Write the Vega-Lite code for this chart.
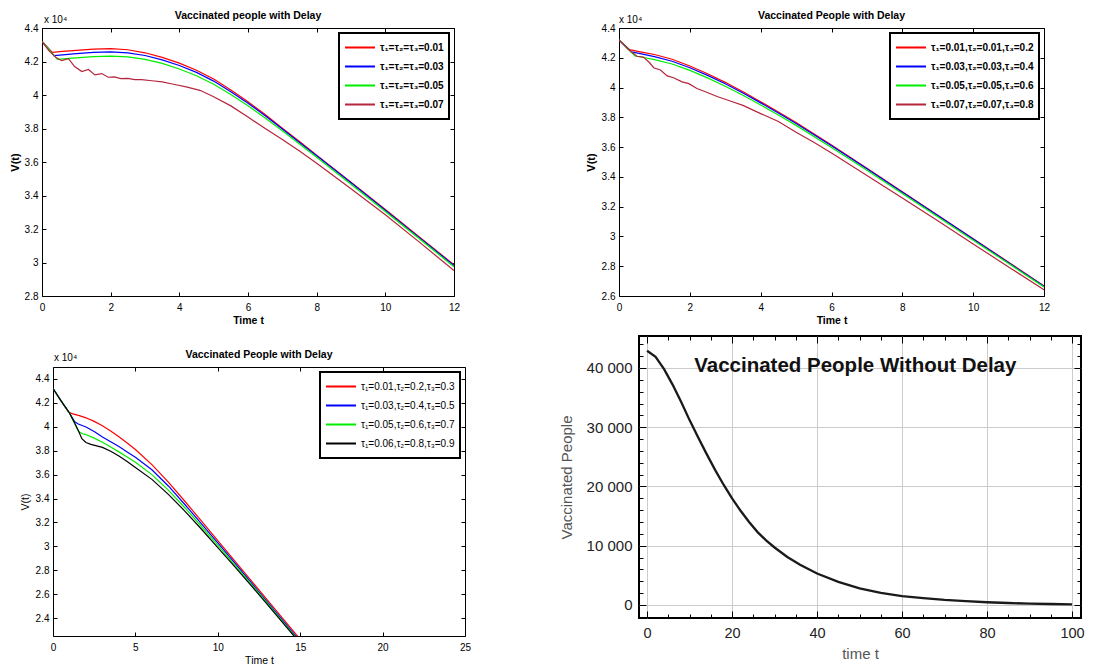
{
"$schema": "https://vega.github.io/schema/vega-lite/v6.json",
"background": "white",
"padding": {"left": 8, "top": 10, "right": 5, "bottom": 5},
"config": {
  "font": "Liberation Sans",
  "view": {"stroke": "black", "strokeWidth": 1},
  "axis": {"domain": false, "grid": false, "tickColor": "black", "tickSize": -4, "tickWidth": 1, "labelColor": "black", "titleColor": "black", "labelFontSize": 10, "labelFlush": false, "labelOverlap": false},
  "legend": {"strokeWidth": 2},
  "title": {"color": "black", "fontSize": 10.5, "fontWeight": "bold", "offset": -6}
},
"datasets": {
"p1": [
{"t":0,"v":4.32,"s":"τ₁=τ₂=τ₃=0.01"},{"t":0.3,"v":4.255,"s":"τ₁=τ₂=τ₃=0.01"},{"t":0.6,"v":4.26,"s":"τ₁=τ₂=τ₃=0.01"},{"t":1,"v":4.267,"s":"τ₁=τ₂=τ₃=0.01"},{"t":1.5,"v":4.274,"s":"τ₁=τ₂=τ₃=0.01"},{"t":2,"v":4.277,"s":"τ₁=τ₂=τ₃=0.01"},{"t":2.5,"v":4.27,"s":"τ₁=τ₂=τ₃=0.01"},{"t":3,"v":4.252,"s":"τ₁=τ₂=τ₃=0.01"},{"t":3.5,"v":4.225,"s":"τ₁=τ₂=τ₃=0.01"},{"t":4,"v":4.19,"s":"τ₁=τ₂=τ₃=0.01"},{"t":4.5,"v":4.148,"s":"τ₁=τ₂=τ₃=0.01"},{"t":5,"v":4.095,"s":"τ₁=τ₂=τ₃=0.01"},{"t":5.5,"v":4.03,"s":"τ₁=τ₂=τ₃=0.01"},{"t":6,"v":3.96,"s":"τ₁=τ₂=τ₃=0.01"},{"t":6.5,"v":3.883,"s":"τ₁=τ₂=τ₃=0.01"},{"t":7,"v":3.802,"s":"τ₁=τ₂=τ₃=0.01"},{"t":7.5,"v":3.722,"s":"τ₁=τ₂=τ₃=0.01"},{"t":8,"v":3.641,"s":"τ₁=τ₂=τ₃=0.01"},{"t":9,"v":3.48,"s":"τ₁=τ₂=τ₃=0.01"},{"t":10,"v":3.316,"s":"τ₁=τ₂=τ₃=0.01"},{"t":11,"v":3.151,"s":"τ₁=τ₂=τ₃=0.01"},{"t":12,"v":2.986,"s":"τ₁=τ₂=τ₃=0.01"},
{"t":0,"v":4.32,"s":"τ₁=τ₂=τ₃=0.03"},{"t":0.35,"v":4.235,"s":"τ₁=τ₂=τ₃=0.03"},{"t":0.6,"v":4.24,"s":"τ₁=τ₂=τ₃=0.03"},{"t":1,"v":4.247,"s":"τ₁=τ₂=τ₃=0.03"},{"t":1.5,"v":4.254,"s":"τ₁=τ₂=τ₃=0.03"},{"t":2,"v":4.257,"s":"τ₁=τ₂=τ₃=0.03"},{"t":2.5,"v":4.252,"s":"τ₁=τ₂=τ₃=0.03"},{"t":3,"v":4.236,"s":"τ₁=τ₂=τ₃=0.03"},{"t":3.5,"v":4.21,"s":"τ₁=τ₂=τ₃=0.03"},{"t":4,"v":4.176,"s":"τ₁=τ₂=τ₃=0.03"},{"t":4.5,"v":4.135,"s":"τ₁=τ₂=τ₃=0.03"},{"t":5,"v":4.083,"s":"τ₁=τ₂=τ₃=0.03"},{"t":5.5,"v":4.02,"s":"τ₁=τ₂=τ₃=0.03"},{"t":6,"v":3.951,"s":"τ₁=τ₂=τ₃=0.03"},{"t":6.5,"v":3.876,"s":"τ₁=τ₂=τ₃=0.03"},{"t":7,"v":3.797,"s":"τ₁=τ₂=τ₃=0.03"},{"t":7.5,"v":3.717,"s":"τ₁=τ₂=τ₃=0.03"},{"t":8,"v":3.637,"s":"τ₁=τ₂=τ₃=0.03"},{"t":9,"v":3.476,"s":"τ₁=τ₂=τ₃=0.03"},{"t":10,"v":3.312,"s":"τ₁=τ₂=τ₃=0.03"},{"t":11,"v":3.147,"s":"τ₁=τ₂=τ₃=0.03"},{"t":12,"v":2.982,"s":"τ₁=τ₂=τ₃=0.03"},
{"t":0,"v":4.32,"s":"τ₁=τ₂=τ₃=0.05"},{"t":0.45,"v":4.213,"s":"τ₁=τ₂=τ₃=0.05"},{"t":0.7,"v":4.217,"s":"τ₁=τ₂=τ₃=0.05"},{"t":1,"v":4.222,"s":"τ₁=τ₂=τ₃=0.05"},{"t":1.5,"v":4.229,"s":"τ₁=τ₂=τ₃=0.05"},{"t":2,"v":4.232,"s":"τ₁=τ₂=τ₃=0.05"},{"t":2.5,"v":4.228,"s":"τ₁=τ₂=τ₃=0.05"},{"t":3,"v":4.213,"s":"τ₁=τ₂=τ₃=0.05"},{"t":3.5,"v":4.189,"s":"τ₁=τ₂=τ₃=0.05"},{"t":4,"v":4.155,"s":"τ₁=τ₂=τ₃=0.05"},{"t":4.5,"v":4.115,"s":"τ₁=τ₂=τ₃=0.05"},{"t":5,"v":4.064,"s":"τ₁=τ₂=τ₃=0.05"},{"t":5.5,"v":4.003,"s":"τ₁=τ₂=τ₃=0.05"},{"t":6,"v":3.936,"s":"τ₁=τ₂=τ₃=0.05"},{"t":6.5,"v":3.863,"s":"τ₁=τ₂=τ₃=0.05"},{"t":7,"v":3.786,"s":"τ₁=τ₂=τ₃=0.05"},{"t":7.5,"v":3.707,"s":"τ₁=τ₂=τ₃=0.05"},{"t":8,"v":3.628,"s":"τ₁=τ₂=τ₃=0.05"},{"t":9,"v":3.467,"s":"τ₁=τ₂=τ₃=0.05"},{"t":10,"v":3.304,"s":"τ₁=τ₂=τ₃=0.05"},{"t":11,"v":3.14,"s":"τ₁=τ₂=τ₃=0.05"},{"t":12,"v":2.975,"s":"τ₁=τ₂=τ₃=0.05"},
{"t":0,"v":4.32,"s":"τ₁=τ₂=τ₃=0.07"},{"t":0.2,"v":4.265,"s":"τ₁=τ₂=τ₃=0.07"},{"t":0.4,"v":4.225,"s":"τ₁=τ₂=τ₃=0.07"},{"t":0.57,"v":4.205,"s":"τ₁=τ₂=τ₃=0.07"},{"t":0.77,"v":4.217,"s":"τ₁=τ₂=τ₃=0.07"},{"t":0.95,"v":4.17,"s":"τ₁=τ₂=τ₃=0.07"},{"t":1.16,"v":4.14,"s":"τ₁=τ₂=τ₃=0.07"},{"t":1.35,"v":4.152,"s":"τ₁=τ₂=τ₃=0.07"},{"t":1.54,"v":4.12,"s":"τ₁=τ₂=τ₃=0.07"},{"t":1.74,"v":4.128,"s":"τ₁=τ₂=τ₃=0.07"},{"t":1.93,"v":4.106,"s":"τ₁=τ₂=τ₃=0.07"},{"t":2.1,"v":4.108,"s":"τ₁=τ₂=τ₃=0.07"},{"t":2.3,"v":4.098,"s":"τ₁=τ₂=τ₃=0.07"},{"t":2.5,"v":4.099,"s":"τ₁=τ₂=τ₃=0.07"},{"t":2.7,"v":4.092,"s":"τ₁=τ₂=τ₃=0.07"},{"t":2.9,"v":4.092,"s":"τ₁=τ₂=τ₃=0.07"},{"t":3.2,"v":4.085,"s":"τ₁=τ₂=τ₃=0.07"},{"t":3.5,"v":4.078,"s":"τ₁=τ₂=τ₃=0.07"},{"t":3.83,"v":4.064,"s":"τ₁=τ₂=τ₃=0.07"},{"t":4.2,"v":4.048,"s":"τ₁=τ₂=τ₃=0.07"},{"t":4.6,"v":4.028,"s":"τ₁=τ₂=τ₃=0.07"},{"t":5,"v":3.99,"s":"τ₁=τ₂=τ₃=0.07"},{"t":5.5,"v":3.935,"s":"τ₁=τ₂=τ₃=0.07"},{"t":6,"v":3.868,"s":"τ₁=τ₂=τ₃=0.07"},{"t":6.5,"v":3.8,"s":"τ₁=τ₂=τ₃=0.07"},{"t":7,"v":3.735,"s":"τ₁=τ₂=τ₃=0.07"},{"t":7.5,"v":3.665,"s":"τ₁=τ₂=τ₃=0.07"},{"t":8,"v":3.592,"s":"τ₁=τ₂=τ₃=0.07"},{"t":9,"v":3.44,"s":"τ₁=τ₂=τ₃=0.07"},{"t":10,"v":3.285,"s":"τ₁=τ₂=τ₃=0.07"},{"t":11,"v":3.12,"s":"τ₁=τ₂=τ₃=0.07"},{"t":12,"v":2.952,"s":"τ₁=τ₂=τ₃=0.07"}
],
"p2": [
{"t":0,"v":4.32,"s":"τ₁=0.01,τ₂=0.01,τ₃=0.2"},{"t":0.3,"v":4.255,"s":"τ₁=0.01,τ₂=0.01,τ₃=0.2"},{"t":0.6,"v":4.24,"s":"τ₁=0.01,τ₂=0.01,τ₃=0.2"},{"t":1,"v":4.222,"s":"τ₁=0.01,τ₂=0.01,τ₃=0.2"},{"t":1.5,"v":4.19,"s":"τ₁=0.01,τ₂=0.01,τ₃=0.2"},{"t":2,"v":4.145,"s":"τ₁=0.01,τ₂=0.01,τ₃=0.2"},{"t":2.5,"v":4.093,"s":"τ₁=0.01,τ₂=0.01,τ₃=0.2"},{"t":3,"v":4.035,"s":"τ₁=0.01,τ₂=0.01,τ₃=0.2"},{"t":3.5,"v":3.972,"s":"τ₁=0.01,τ₂=0.01,τ₃=0.2"},{"t":4,"v":3.905,"s":"τ₁=0.01,τ₂=0.01,τ₃=0.2"},{"t":4.5,"v":3.836,"s":"τ₁=0.01,τ₂=0.01,τ₃=0.2"},{"t":5,"v":3.765,"s":"τ₁=0.01,τ₂=0.01,τ₃=0.2"},{"t":6,"v":3.614,"s":"τ₁=0.01,τ₂=0.01,τ₃=0.2"},{"t":7,"v":3.458,"s":"τ₁=0.01,τ₂=0.01,τ₃=0.2"},{"t":8,"v":3.3,"s":"τ₁=0.01,τ₂=0.01,τ₃=0.2"},{"t":9,"v":3.143,"s":"τ₁=0.01,τ₂=0.01,τ₃=0.2"},{"t":10,"v":2.985,"s":"τ₁=0.01,τ₂=0.01,τ₃=0.2"},{"t":11,"v":2.827,"s":"τ₁=0.01,τ₂=0.01,τ₃=0.2"},{"t":12,"v":2.668,"s":"τ₁=0.01,τ₂=0.01,τ₃=0.2"},
{"t":0,"v":4.32,"s":"τ₁=0.03,τ₂=0.03,τ₃=0.4"},{"t":0.35,"v":4.24,"s":"τ₁=0.03,τ₂=0.03,τ₃=0.4"},{"t":0.6,"v":4.228,"s":"τ₁=0.03,τ₂=0.03,τ₃=0.4"},{"t":1,"v":4.208,"s":"τ₁=0.03,τ₂=0.03,τ₃=0.4"},{"t":1.5,"v":4.177,"s":"τ₁=0.03,τ₂=0.03,τ₃=0.4"},{"t":2,"v":4.133,"s":"τ₁=0.03,τ₂=0.03,τ₃=0.4"},{"t":2.5,"v":4.082,"s":"τ₁=0.03,τ₂=0.03,τ₃=0.4"},{"t":3,"v":4.025,"s":"τ₁=0.03,τ₂=0.03,τ₃=0.4"},{"t":3.5,"v":3.963,"s":"τ₁=0.03,τ₂=0.03,τ₃=0.4"},{"t":4,"v":3.897,"s":"τ₁=0.03,τ₂=0.03,τ₃=0.4"},{"t":4.5,"v":3.829,"s":"τ₁=0.03,τ₂=0.03,τ₃=0.4"},{"t":5,"v":3.759,"s":"τ₁=0.03,τ₂=0.03,τ₃=0.4"},{"t":6,"v":3.609,"s":"τ₁=0.03,τ₂=0.03,τ₃=0.4"},{"t":7,"v":3.454,"s":"τ₁=0.03,τ₂=0.03,τ₃=0.4"},{"t":8,"v":3.297,"s":"τ₁=0.03,τ₂=0.03,τ₃=0.4"},{"t":9,"v":3.14,"s":"τ₁=0.03,τ₂=0.03,τ₃=0.4"},{"t":10,"v":2.982,"s":"τ₁=0.03,τ₂=0.03,τ₃=0.4"},{"t":11,"v":2.824,"s":"τ₁=0.03,τ₂=0.03,τ₃=0.4"},{"t":12,"v":2.665,"s":"τ₁=0.03,τ₂=0.03,τ₃=0.4"},
{"t":0,"v":4.32,"s":"τ₁=0.05,τ₂=0.05,τ₃=0.6"},{"t":0.45,"v":4.212,"s":"τ₁=0.05,τ₂=0.05,τ₃=0.6"},{"t":0.7,"v":4.202,"s":"τ₁=0.05,τ₂=0.05,τ₃=0.6"},{"t":1,"v":4.188,"s":"τ₁=0.05,τ₂=0.05,τ₃=0.6"},{"t":1.5,"v":4.158,"s":"τ₁=0.05,τ₂=0.05,τ₃=0.6"},{"t":2,"v":4.115,"s":"τ₁=0.05,τ₂=0.05,τ₃=0.6"},{"t":2.5,"v":4.065,"s":"τ₁=0.05,τ₂=0.05,τ₃=0.6"},{"t":3,"v":4.009,"s":"τ₁=0.05,τ₂=0.05,τ₃=0.6"},{"t":3.5,"v":3.948,"s":"τ₁=0.05,τ₂=0.05,τ₃=0.6"},{"t":4,"v":3.883,"s":"τ₁=0.05,τ₂=0.05,τ₃=0.6"},{"t":4.5,"v":3.815,"s":"τ₁=0.05,τ₂=0.05,τ₃=0.6"},{"t":5,"v":3.746,"s":"τ₁=0.05,τ₂=0.05,τ₃=0.6"},{"t":6,"v":3.598,"s":"τ₁=0.05,τ₂=0.05,τ₃=0.6"},{"t":7,"v":3.444,"s":"τ₁=0.05,τ₂=0.05,τ₃=0.6"},{"t":8,"v":3.288,"s":"τ₁=0.05,τ₂=0.05,τ₃=0.6"},{"t":9,"v":3.132,"s":"τ₁=0.05,τ₂=0.05,τ₃=0.6"},{"t":10,"v":2.975,"s":"τ₁=0.05,τ₂=0.05,τ₃=0.6"},{"t":11,"v":2.818,"s":"τ₁=0.05,τ₂=0.05,τ₃=0.6"},{"t":12,"v":2.66,"s":"τ₁=0.05,τ₂=0.05,τ₃=0.6"},
{"t":0,"v":4.32,"s":"τ₁=0.07,τ₂=0.07,τ₃=0.8"},{"t":0.25,"v":4.258,"s":"τ₁=0.07,τ₂=0.07,τ₃=0.8"},{"t":0.51,"v":4.21,"s":"τ₁=0.07,τ₂=0.07,τ₃=0.8"},{"t":0.69,"v":4.205,"s":"τ₁=0.07,τ₂=0.07,τ₃=0.8"},{"t":0.85,"v":4.17,"s":"τ₁=0.07,τ₂=0.07,τ₃=0.8"},{"t":0.98,"v":4.133,"s":"τ₁=0.07,τ₂=0.07,τ₃=0.8"},{"t":1.17,"v":4.118,"s":"τ₁=0.07,τ₂=0.07,τ₃=0.8"},{"t":1.36,"v":4.078,"s":"τ₁=0.07,τ₂=0.07,τ₃=0.8"},{"t":1.54,"v":4.066,"s":"τ₁=0.07,τ₂=0.07,τ₃=0.8"},{"t":1.78,"v":4.038,"s":"τ₁=0.07,τ₂=0.07,τ₃=0.8"},{"t":1.97,"v":4.026,"s":"τ₁=0.07,τ₂=0.07,τ₃=0.8"},{"t":2.2,"v":3.994,"s":"τ₁=0.07,τ₂=0.07,τ₃=0.8"},{"t":2.44,"v":3.972,"s":"τ₁=0.07,τ₂=0.07,τ₃=0.8"},{"t":2.77,"v":3.94,"s":"τ₁=0.07,τ₂=0.07,τ₃=0.8"},{"t":3.14,"v":3.91,"s":"τ₁=0.07,τ₂=0.07,τ₃=0.8"},{"t":3.5,"v":3.88,"s":"τ₁=0.07,τ₂=0.07,τ₃=0.8"},{"t":4,"v":3.825,"s":"τ₁=0.07,τ₂=0.07,τ₃=0.8"},{"t":4.5,"v":3.772,"s":"τ₁=0.07,τ₂=0.07,τ₃=0.8"},{"t":5,"v":3.7,"s":"τ₁=0.07,τ₂=0.07,τ₃=0.8"},{"t":5.5,"v":3.632,"s":"τ₁=0.07,τ₂=0.07,τ₃=0.8"},{"t":6,"v":3.56,"s":"τ₁=0.07,τ₂=0.07,τ₃=0.8"},{"t":7,"v":3.41,"s":"τ₁=0.07,τ₂=0.07,τ₃=0.8"},{"t":8,"v":3.258,"s":"τ₁=0.07,τ₂=0.07,τ₃=0.8"},{"t":9,"v":3.105,"s":"τ₁=0.07,τ₂=0.07,τ₃=0.8"},{"t":10,"v":2.95,"s":"τ₁=0.07,τ₂=0.07,τ₃=0.8"},{"t":11,"v":2.795,"s":"τ₁=0.07,τ₂=0.07,τ₃=0.8"},{"t":12,"v":2.642,"s":"τ₁=0.07,τ₂=0.07,τ₃=0.8"}
],
"p3": [
{"t":0,"v":4.32,"s":"τ₁=0.01,τ₂=0.2,τ₃=0.3"},{"t":0.5,"v":4.215,"s":"τ₁=0.01,τ₂=0.2,τ₃=0.3"},{"t":0.95,"v":4.122,"s":"τ₁=0.01,τ₂=0.2,τ₃=0.3"},{"t":1.2,"v":4.108,"s":"τ₁=0.01,τ₂=0.2,τ₃=0.3"},{"t":1.6,"v":4.093,"s":"τ₁=0.01,τ₂=0.2,τ₃=0.3"},{"t":2,"v":4.075,"s":"τ₁=0.01,τ₂=0.2,τ₃=0.3"},{"t":2.5,"v":4.045,"s":"τ₁=0.01,τ₂=0.2,τ₃=0.3"},{"t":3,"v":4.008,"s":"τ₁=0.01,τ₂=0.2,τ₃=0.3"},{"t":3.5,"v":3.965,"s":"τ₁=0.01,τ₂=0.2,τ₃=0.3"},{"t":4,"v":3.917,"s":"τ₁=0.01,τ₂=0.2,τ₃=0.3"},{"t":4.5,"v":3.865,"s":"τ₁=0.01,τ₂=0.2,τ₃=0.3"},{"t":5,"v":3.81,"s":"τ₁=0.01,τ₂=0.2,τ₃=0.3"},{"t":6,"v":3.683,"s":"τ₁=0.01,τ₂=0.2,τ₃=0.3"},{"t":7,"v":3.537,"s":"τ₁=0.01,τ₂=0.2,τ₃=0.3"},{"t":8,"v":3.377,"s":"τ₁=0.01,τ₂=0.2,τ₃=0.3"},{"t":9,"v":3.212,"s":"τ₁=0.01,τ₂=0.2,τ₃=0.3"},{"t":10,"v":3.047,"s":"τ₁=0.01,τ₂=0.2,τ₃=0.3"},{"t":11,"v":2.882,"s":"τ₁=0.01,τ₂=0.2,τ₃=0.3"},{"t":12,"v":2.717,"s":"τ₁=0.01,τ₂=0.2,τ₃=0.3"},{"t":13,"v":2.552,"s":"τ₁=0.01,τ₂=0.2,τ₃=0.3"},{"t":14,"v":2.387,"s":"τ₁=0.01,τ₂=0.2,τ₃=0.3"},{"t":15,"v":2.222,"s":"τ₁=0.01,τ₂=0.2,τ₃=0.3"},
{"t":0,"v":4.32,"s":"τ₁=0.03,τ₂=0.4,τ₃=0.5"},{"t":0.5,"v":4.215,"s":"τ₁=0.03,τ₂=0.4,τ₃=0.5"},{"t":1,"v":4.115,"s":"τ₁=0.03,τ₂=0.4,τ₃=0.5"},{"t":1.3,"v":4.045,"s":"τ₁=0.03,τ₂=0.4,τ₃=0.5"},{"t":1.5,"v":4.025,"s":"τ₁=0.03,τ₂=0.4,τ₃=0.5"},{"t":2,"v":3.998,"s":"τ₁=0.03,τ₂=0.4,τ₃=0.5"},{"t":2.5,"v":3.96,"s":"τ₁=0.03,τ₂=0.4,τ₃=0.5"},{"t":3,"v":3.915,"s":"τ₁=0.03,τ₂=0.4,τ₃=0.5"},{"t":3.5,"v":3.875,"s":"τ₁=0.03,τ₂=0.4,τ₃=0.5"},{"t":4,"v":3.835,"s":"τ₁=0.03,τ₂=0.4,τ₃=0.5"},{"t":4.5,"v":3.79,"s":"τ₁=0.03,τ₂=0.4,τ₃=0.5"},{"t":5,"v":3.745,"s":"τ₁=0.03,τ₂=0.4,τ₃=0.5"},{"t":6,"v":3.64,"s":"τ₁=0.03,τ₂=0.4,τ₃=0.5"},{"t":7,"v":3.505,"s":"τ₁=0.03,τ₂=0.4,τ₃=0.5"},{"t":8,"v":3.35,"s":"τ₁=0.03,τ₂=0.4,τ₃=0.5"},{"t":9,"v":3.19,"s":"τ₁=0.03,τ₂=0.4,τ₃=0.5"},{"t":10,"v":3.028,"s":"τ₁=0.03,τ₂=0.4,τ₃=0.5"},{"t":11,"v":2.865,"s":"τ₁=0.03,τ₂=0.4,τ₃=0.5"},{"t":12,"v":2.7,"s":"τ₁=0.03,τ₂=0.4,τ₃=0.5"},{"t":13,"v":2.535,"s":"τ₁=0.03,τ₂=0.4,τ₃=0.5"},{"t":14,"v":2.37,"s":"τ₁=0.03,τ₂=0.4,τ₃=0.5"},{"t":15,"v":2.205,"s":"τ₁=0.03,τ₂=0.4,τ₃=0.5"},
{"t":0,"v":4.32,"s":"τ₁=0.05,τ₂=0.6,τ₃=0.7"},{"t":0.5,"v":4.215,"s":"τ₁=0.05,τ₂=0.6,τ₃=0.7"},{"t":1,"v":4.115,"s":"τ₁=0.05,τ₂=0.6,τ₃=0.7"},{"t":1.3,"v":4.03,"s":"τ₁=0.05,τ₂=0.6,τ₃=0.7"},{"t":1.55,"v":3.96,"s":"τ₁=0.05,τ₂=0.6,τ₃=0.7"},{"t":1.8,"v":3.942,"s":"τ₁=0.05,τ₂=0.6,τ₃=0.7"},{"t":2,"v":3.935,"s":"τ₁=0.05,τ₂=0.6,τ₃=0.7"},{"t":2.5,"v":3.905,"s":"τ₁=0.05,τ₂=0.6,τ₃=0.7"},{"t":3,"v":3.87,"s":"τ₁=0.05,τ₂=0.6,τ₃=0.7"},{"t":3.5,"v":3.83,"s":"τ₁=0.05,τ₂=0.6,τ₃=0.7"},{"t":4,"v":3.79,"s":"τ₁=0.05,τ₂=0.6,τ₃=0.7"},{"t":4.5,"v":3.748,"s":"τ₁=0.05,τ₂=0.6,τ₃=0.7"},{"t":5,"v":3.703,"s":"τ₁=0.05,τ₂=0.6,τ₃=0.7"},{"t":6,"v":3.6,"s":"τ₁=0.05,τ₂=0.6,τ₃=0.7"},{"t":7,"v":3.47,"s":"τ₁=0.05,τ₂=0.6,τ₃=0.7"},{"t":8,"v":3.323,"s":"τ₁=0.05,τ₂=0.6,τ₃=0.7"},{"t":9,"v":3.168,"s":"τ₁=0.05,τ₂=0.6,τ₃=0.7"},{"t":10,"v":3.01,"s":"τ₁=0.05,τ₂=0.6,τ₃=0.7"},{"t":11,"v":2.85,"s":"τ₁=0.05,τ₂=0.6,τ₃=0.7"},{"t":12,"v":2.688,"s":"τ₁=0.05,τ₂=0.6,τ₃=0.7"},{"t":13,"v":2.525,"s":"τ₁=0.05,τ₂=0.6,τ₃=0.7"},{"t":14,"v":2.36,"s":"τ₁=0.05,τ₂=0.6,τ₃=0.7"},{"t":15,"v":2.195,"s":"τ₁=0.05,τ₂=0.6,τ₃=0.7"},
{"t":0,"v":4.32,"s":"τ₁=0.06,τ₂=0.8,τ₃=0.9"},{"t":0.5,"v":4.215,"s":"τ₁=0.06,τ₂=0.8,τ₃=0.9"},{"t":1,"v":4.115,"s":"τ₁=0.06,τ₂=0.8,τ₃=0.9"},{"t":1.3,"v":4.035,"s":"τ₁=0.06,τ₂=0.8,τ₃=0.9"},{"t":1.55,"v":3.965,"s":"τ₁=0.06,τ₂=0.8,τ₃=0.9"},{"t":1.75,"v":3.9,"s":"τ₁=0.06,τ₂=0.8,τ₃=0.9"},{"t":2,"v":3.868,"s":"τ₁=0.06,τ₂=0.8,τ₃=0.9"},{"t":2.3,"v":3.853,"s":"τ₁=0.06,τ₂=0.8,τ₃=0.9"},{"t":3,"v":3.828,"s":"τ₁=0.06,τ₂=0.8,τ₃=0.9"},{"t":3.5,"v":3.795,"s":"τ₁=0.06,τ₂=0.8,τ₃=0.9"},{"t":4,"v":3.755,"s":"τ₁=0.06,τ₂=0.8,τ₃=0.9"},{"t":4.5,"v":3.71,"s":"τ₁=0.06,τ₂=0.8,τ₃=0.9"},{"t":5,"v":3.66,"s":"τ₁=0.06,τ₂=0.8,τ₃=0.9"},{"t":6,"v":3.56,"s":"τ₁=0.06,τ₂=0.8,τ₃=0.9"},{"t":7,"v":3.435,"s":"τ₁=0.06,τ₂=0.8,τ₃=0.9"},{"t":8,"v":3.295,"s":"τ₁=0.06,τ₂=0.8,τ₃=0.9"},{"t":9,"v":3.145,"s":"τ₁=0.06,τ₂=0.8,τ₃=0.9"},{"t":10,"v":2.99,"s":"τ₁=0.06,τ₂=0.8,τ₃=0.9"},{"t":11,"v":2.835,"s":"τ₁=0.06,τ₂=0.8,τ₃=0.9"},{"t":12,"v":2.675,"s":"τ₁=0.06,τ₂=0.8,τ₃=0.9"},{"t":13,"v":2.515,"s":"τ₁=0.06,τ₂=0.8,τ₃=0.9"},{"t":14,"v":2.352,"s":"τ₁=0.06,τ₂=0.8,τ₃=0.9"},{"t":15,"v":2.188,"s":"τ₁=0.06,τ₂=0.8,τ₃=0.9"}
],
"p4": [
{"t":0,"v":42900},{"t":2,"v":41900},{"t":4,"v":39800},{"t":6,"v":37200},{"t":8,"v":34300},{"t":10,"v":31200},{"t":12,"v":28300},{"t":14,"v":25500},{"t":16,"v":22800},{"t":18,"v":20300},{"t":20,"v":18000},{"t":22,"v":15900},{"t":24,"v":14000},{"t":26,"v":12300},{"t":28,"v":10900},{"t":30,"v":9700},{"t":33,"v":8100},{"t":36,"v":6800},{"t":40,"v":5300},{"t":45,"v":3900},{"t":50,"v":2800},{"t":55,"v":2050},{"t":60,"v":1500},{"t":65,"v":1150},{"t":70,"v":850},{"t":75,"v":640},{"t":80,"v":460},{"t":85,"v":330},{"t":90,"v":230},{"t":95,"v":160},{"t":100,"v":110}
]
},
"bounds": "flush",
"spacing": 577,
"resolve": {"scale": {"color": "independent"}, "legend": {"color": "independent"}},
"hconcat": [
{
 "bounds": "flush", "spacing": 71,
 "resolve": {"scale": {"color": "independent"}, "legend": {"color": "independent"}},
 "vconcat": [
  {
   "width": 412, "height": 268,
   "title": {"text": "Vaccinated people with Delay"},
   "layer": [
    {"data": {"name": "p1"},
     "mark": {"type": "line", "strokeWidth": 1.2, "clip": true},
     "encoding": {
      "x": {"field": "t", "type": "quantitative", "scale": {"domain": [0, 12], "nice": false, "zero": false},
            "axis": {"orient": "bottom", "values": [0,2,4,6,8,10,12], "title": "Time t", "titleFontWeight": "bold", "titleFontSize": 10.5, "labelPadding": 10, "titlePadding": 3}},
      "y": {"field": "v", "type": "quantitative", "scale": {"domain": [2.8, 4.4], "nice": false, "zero": false},
            "axis": {"orient": "left", "values": [2.8,3,3.2,3.4,3.6,3.8,4,4.2,4.4], "format": "~g", "title": "V(t)", "titleFontWeight": "bold", "titleFontSize": 11, "labelPadding": 8, "titlePadding": 4}},
      "color": {"field": "s", "type": "nominal",
            "scale": {"domain": ["τ₁=τ₂=τ₃=0.01","τ₁=τ₂=τ₃=0.03","τ₁=τ₂=τ₃=0.05","τ₁=τ₂=τ₃=0.07"], "range": ["#ff0000","#0000ff","#00ee00","#b5263d"]},
            "legend": {"title": null, "orient": "top-right", "offset": 5, "strokeColor": "black", "fillColor": "white", "padding": 5, "symbolType": "stroke", "symbolSize": 900, "symbolStrokeWidth": 2, "labelFontSize": 10, "labelFontWeight": "bold", "labelColor": "black", "labelOffset": 4, "rowPadding": 0, "clipHeight": 19, "labelLimit": 300, "cornerRadius": 0}}
     }},
    {"data": {"values": [{}]},
     "mark": {"type": "text", "align": "left", "baseline": "alphabetic", "dx": 2, "dy": -5, "fontSize": 10, "color": "black"},
     "encoding": {
      "x": {"datum": 0, "type": "quantitative", "axis": {"orient": "top", "values": [0,2,4,6,8,10,12], "labels": false, "title": null}},
      "y": {"datum": 4.4, "type": "quantitative", "axis": {"orient": "right", "values": [2.8,3,3.2,3.4,3.6,3.8,4,4.2,4.4], "labels": false, "title": null}},
      "text": {"value": "x 10⁴"}
     }}
   ],
   "resolve": {"axis": {"x": "independent", "y": "independent"}}
  },
  {
   "bounds": "flush", "spacing": 10,
   "resolve": {"scale": {"color": "independent"}, "legend": {"color": "independent"}},
   "hconcat": [
    {"width": 1, "height": 1, "view": {"stroke": null}, "data": {"values": []}, "mark": "point"},
    {
     "width": 412, "height": 269,
     "title": {"text": "Vaccinated People with Delay", "offset": -7},
     "layer": [
      {"data": {"name": "p3"},
       "mark": {"type": "line", "strokeWidth": 1.2, "clip": true},
       "encoding": {
        "x": {"field": "t", "type": "quantitative", "scale": {"domain": [0, 25], "nice": false, "zero": false},
              "axis": {"orient": "bottom", "values": [0,5,10,15,20,25], "title": "Time t", "titleFontWeight": "normal", "titleFontSize": 10.5, "labelPadding": 10, "titlePadding": 3}},
        "y": {"field": "v", "type": "quantitative", "scale": {"domain": [2.25, 4.5], "nice": false, "zero": false},
              "axis": {"orient": "left", "values": [2.4,2.6,2.8,3,3.2,3.4,3.6,3.8,4,4.2,4.4], "format": "~g", "title": "V(t)", "titleFontWeight": "normal", "titleFontSize": 10.5, "labelPadding": 8, "titlePadding": 5}},
        "color": {"field": "s", "type": "nominal",
              "scale": {"domain": ["τ₁=0.01,τ₂=0.2,τ₃=0.3","τ₁=0.03,τ₂=0.4,τ₃=0.5","τ₁=0.05,τ₂=0.6,τ₃=0.7","τ₁=0.06,τ₂=0.8,τ₃=0.9"], "range": ["#ff0000","#0000ff","#00ee00","#000000"]},
              "legend": {"title": null, "orient": "top-right", "offset": 5, "strokeColor": "black", "fillColor": "white", "padding": 5, "symbolType": "stroke", "symbolSize": 900, "symbolStrokeWidth": 2, "labelFontSize": 10, "labelFontWeight": "normal", "labelColor": "black", "labelOffset": 4, "rowPadding": 0, "clipHeight": 19, "labelLimit": 300, "cornerRadius": 0}}
       }},
      {"data": {"values": [{}]},
       "mark": {"type": "text", "align": "left", "baseline": "alphabetic", "dx": 1, "dy": -6, "fontSize": 10, "color": "black"},
       "encoding": {
        "x": {"datum": 0, "type": "quantitative", "axis": {"orient": "top", "values": [0,5,10,15,20,25], "labels": false, "title": null}},
        "y": {"datum": 4.5, "type": "quantitative", "axis": {"orient": "right", "values": [2.4,2.6,2.8,3,3.2,3.4,3.6,3.8,4,4.2,4.4], "labels": false, "title": null}},
        "text": {"value": "x 10⁴"}
       }}
     ],
     "resolve": {"axis": {"x": "independent", "y": "independent"}}
    }
   ]
  }
 ]
},
{
 "bounds": "flush", "spacing": 40,
 "resolve": {"scale": {"color": "independent"}, "legend": {"color": "independent"}},
 "vconcat": [
  {
   "width": 425, "height": 268,
   "title": {"text": "Vaccinated People with Delay"},
   "layer": [
    {"data": {"name": "p2"},
     "mark": {"type": "line", "strokeWidth": 1.2, "clip": true},
     "encoding": {
      "x": {"field": "t", "type": "quantitative", "scale": {"domain": [0, 12], "nice": false, "zero": false},
            "axis": {"orient": "bottom", "values": [0,2,4,6,8,10,12], "title": "Time t", "titleFontWeight": "bold", "titleFontSize": 10.5, "labelPadding": 10, "titlePadding": 3}},
      "y": {"field": "v", "type": "quantitative", "scale": {"domain": [2.6, 4.4], "nice": false, "zero": false},
            "axis": {"orient": "left", "values": [2.6,2.8,3,3.2,3.4,3.6,3.8,4,4.2,4.4], "format": "~g", "title": "V(t)", "titleFontWeight": "bold", "titleFontSize": 11, "labelPadding": 8, "titlePadding": 5}},
      "color": {"field": "s", "type": "nominal",
            "scale": {"domain": ["τ₁=0.01,τ₂=0.01,τ₃=0.2","τ₁=0.03,τ₂=0.03,τ₃=0.4","τ₁=0.05,τ₂=0.05,τ₃=0.6","τ₁=0.07,τ₂=0.07,τ₃=0.8"], "range": ["#ff0000","#0000ff","#00ee00","#b5263d"]},
            "legend": {"title": null, "orient": "top-right", "offset": 5, "strokeColor": "black", "fillColor": "white", "padding": 5, "symbolType": "stroke", "symbolSize": 900, "symbolStrokeWidth": 2, "labelFontSize": 10, "labelFontWeight": "bold", "labelColor": "black", "labelOffset": 4, "rowPadding": 0, "clipHeight": 19, "labelLimit": 300, "cornerRadius": 0}}
     }},
    {"data": {"values": [{}]},
     "mark": {"type": "text", "align": "left", "baseline": "alphabetic", "dx": 0, "dy": -5, "fontSize": 10, "color": "black"},
     "encoding": {
      "x": {"datum": 0, "type": "quantitative", "axis": {"orient": "top", "values": [0,2,4,6,8,10,12], "labels": false, "title": null}},
      "y": {"datum": 4.4, "type": "quantitative", "axis": {"orient": "right", "values": [2.6,2.8,3,3.2,3.4,3.6,3.8,4,4.2,4.4], "labels": false, "title": null}},
      "text": {"value": "x 10⁴"}
     }}
   ],
   "resolve": {"axis": {"x": "independent", "y": "independent"}}
  },
  {
   "bounds": "flush", "spacing": 19,
   "resolve": {"scale": {"color": "independent"}, "legend": {"color": "independent"}},
   "hconcat": [
    {"width": 1, "height": 1, "view": {"stroke": null}, "data": {"values": []}, "mark": "point"},
    {
     "width": 442, "height": 282,
     "view": {"stroke": "black", "strokeWidth": 2},
     "layer": [
      {"data": {"name": "p4"},
       "mark": {"type": "line", "color": "#1a1a1a", "strokeWidth": 2.3, "clip": true},
       "encoding": {
        "x": {"field": "t", "type": "quantitative", "scale": {"domain": [-1.9, 102.1], "nice": false, "zero": false},
              "axis": {"orient": "bottom", "values": [0,5,10,15,20,25,30,35,40,45,50,55,60,65,70,75,80,85,90,95,100],
                       "labelExpr": "datum.value % 20 === 0 ? datum.label : ''",
                       "tickSize": {"condition": {"test": "datum.value % 20 === 0", "value": -7}, "value": -4},
                       "grid": true, "gridColor": "#cccccc",
                       "gridOpacity": {"condition": {"test": "datum.value % 20 === 0", "value": 1}, "value": 0},
                       "labelFontSize": 14.5, "labelColor": "#222222", "labelPadding": 15,
                       "title": "time t", "titleFontSize": 15, "titleFontWeight": "normal", "titleColor": "#555555", "titlePadding": 4}},
        "y": {"field": "v", "type": "quantitative", "scale": {"domain": [-2200, 45400], "nice": false, "zero": false},
              "axis": {"orient": "left", "values": [-2000,0,2000,4000,6000,8000,10000,12000,14000,16000,18000,20000,22000,24000,26000,28000,30000,32000,34000,36000,38000,40000,42000,44000],
                       "labelExpr": "datum.value % 10000 === 0 ? replace(format(datum.value, ','), ',', ' ') : ''",
                       "tickSize": {"condition": {"test": "datum.value % 10000 === 0", "value": -7}, "value": -4},
                       "grid": true, "gridColor": "#cccccc",
                       "gridOpacity": {"condition": {"test": "datum.value % 10000 === 0", "value": 1}, "value": 0},
                       "labelFontSize": 15, "labelColor": "#222222", "labelPadding": 14,
                       "title": "Vaccinated People", "titleFontSize": 15, "titleFontWeight": "normal", "titleColor": "#555555", "titlePadding": 12}}
       }},
      {"data": {"values": [{}]},
       "mark": {"type": "text", "align": "center", "baseline": "alphabetic", "fontSize": 20.5, "fontWeight": "bold", "color": "#111111"},
       "encoding": {
        "x": {"datum": 49, "type": "quantitative", "axis": {"orient": "top", "values": [0,5,10,15,20,25,30,35,40,45,50,55,60,65,70,75,80,85,90,95,100], "labels": false, "title": null,
               "tickSize": {"condition": {"test": "datum.value % 20 === 0", "value": -7}, "value": -4}}},
        "y": {"datum": 39300, "type": "quantitative", "axis": {"orient": "right", "values": [-2000,0,2000,4000,6000,8000,10000,12000,14000,16000,18000,20000,22000,24000,26000,28000,30000,32000,34000,36000,38000,40000,42000,44000], "labels": false, "title": null,
               "tickSize": {"condition": {"test": "datum.value % 10000 === 0", "value": -7}, "value": -4}}},
        "text": {"value": "Vaccinated People Without Delay"}
       }}
     ],
     "resolve": {"axis": {"x": "independent", "y": "independent"}}
    }
   ]
  }
 ]
}
]
}
